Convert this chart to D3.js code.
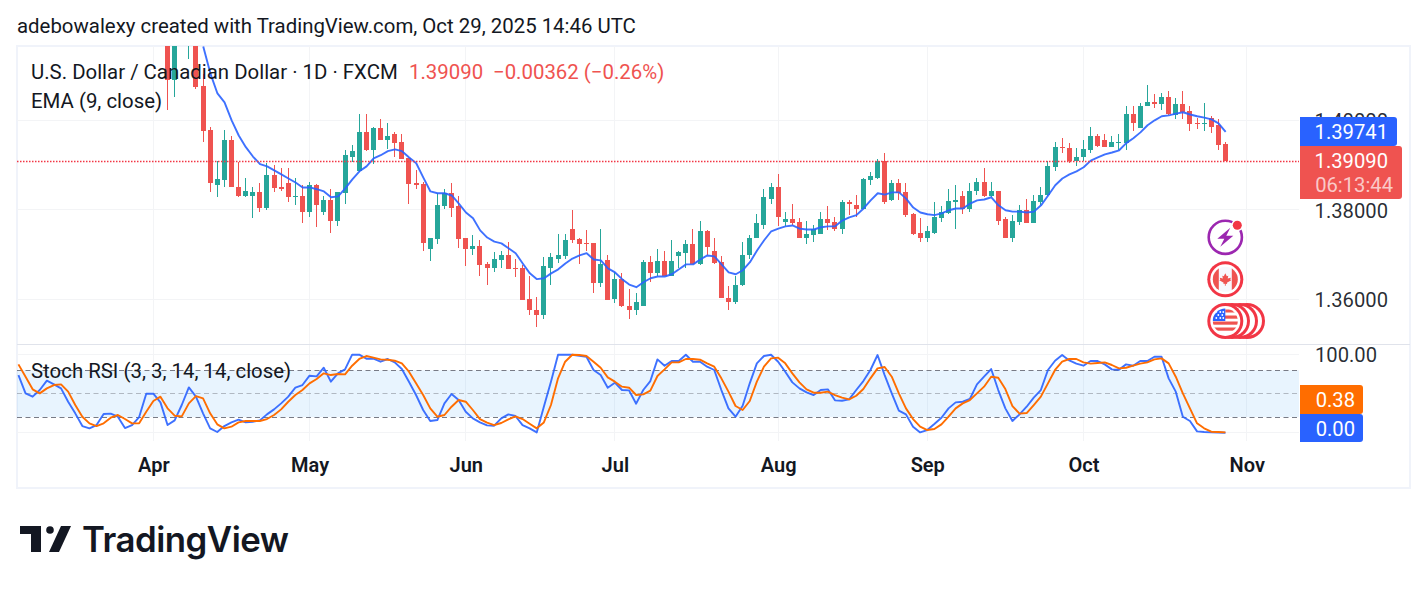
<!DOCTYPE html>
<html>
<head>
<meta charset="utf-8">
<style>
html,body{margin:0;padding:0;background:#fff;}
svg{display:block;font-family:Roboto,sans-serif;}
</style>
<script src="https://cdn.jsdelivr.net/npm/d3@7"></script>
</head>
<body>
<svg id="chart" width="1428" height="591"></svg>
<script>
// USD/CAD daily candles, Apr 3 to Oct 29 2025
const opens = [1.4201,1.4091,1.4234,1.4170,1.4179,1.4076,1.3978,1.3855,1.3866,1.3957,1.3852,1.3830,1.3830,1.3839,1.3805,1.3877,1.3850,1.3861,1.3828,1.3830,
1.3796,1.3855,1.3794,1.3823,1.3774,1.3837,1.3919,1.3886,1.3973,1.3933,1.3982,1.3955,1.3969,1.3951,1.3915,1.3859,1.3857,1.3712,1.3734,1.3808,
1.3837,1.3808,1.3738,1.3712,1.3720,1.3678,1.3671,1.3687,1.3700,1.3669,1.3669,1.3600,1.3577,1.3566,1.3671,1.3691,1.3696,1.3756,1.3734,1.3725,
1.3725,1.3636,1.3687,1.3600,1.3645,1.3586,1.3577,1.3584,1.3683,1.3658,1.3685,1.3651,1.3696,1.3703,1.3723,1.3678,1.3752,1.3709,1.3683,1.3604,
1.3593,1.3631,1.3700,1.3736,1.3767,1.3825,1.3852,1.3772,1.3779,1.3772,1.3738,1.3743,1.3745,1.3779,1.3772,1.3756,1.3817,1.3810,1.3801,1.3866,
1.3872,1.3910,1.3821,1.3859,1.3839,1.3790,1.3749,1.3736,1.3749,1.3781,1.3792,1.3817,1.3830,1.3801,1.3841,1.3863,1.3830,1.3843,1.3779,1.3736,
1.3772,1.3799,1.3770,1.3817,1.3832,1.3895,1.3940,1.3937,1.3910,1.3917,1.3933,1.3966,1.3955,1.3940,1.3949,1.3949,1.4013,1.3982,1.4031,1.4040,
1.4036,1.4053,1.4011,1.4036,1.4020,1.3993,1.3991,1.4006,1.3989,1.3946];
const highs = [1.4223,1.4223,1.4245,1.4234,1.4201,1.4103,1.3984,1.3910,1.3978,1.3964,1.3906,1.3870,1.3850,1.3861,1.3904,1.3899,1.3893,1.3893,1.3872,1.3855,
1.3863,1.3857,1.3830,1.3846,1.3839,1.3933,1.3944,1.4015,1.4015,1.3986,1.4004,1.3995,1.3973,1.3969,1.3915,1.3888,1.3863,1.3738,1.3837,1.3846,
1.3861,1.3830,1.3738,1.3743,1.3732,1.3683,1.3705,1.3707,1.3729,1.3689,1.3676,1.3651,1.3606,1.3694,1.3703,1.3747,1.3747,1.3799,1.3738,1.3754,
1.3725,1.3758,1.3700,1.3662,1.3658,1.3624,1.3615,1.3687,1.3696,1.3712,1.3709,1.3732,1.3709,1.3732,1.3756,1.3774,1.3754,1.3736,1.3696,1.3629,
1.3653,1.3727,1.3743,1.3790,1.3846,1.3859,1.3879,1.3796,1.3812,1.3781,1.3774,1.3765,1.3796,1.3808,1.3783,1.3821,1.3821,1.3832,1.3870,1.3884,
1.3913,1.3926,1.3866,1.3868,1.3859,1.3792,1.3781,1.3763,1.3817,1.3808,1.3846,1.3855,1.3843,1.3861,1.3870,1.3893,1.3863,1.3843,1.3783,1.3788,
1.3810,1.3825,1.3832,1.3850,1.3908,1.3951,1.3960,1.3949,1.3937,1.3957,1.3986,1.3969,1.3969,1.3964,1.3969,1.4033,1.4033,1.4038,1.4078,1.4058,
1.4060,1.4065,1.4049,1.4065,1.4031,1.4006,1.4038,1.4009,1.4004,1.3951];
const lows = [1.4024,1.4051,1.4201,1.4138,1.4071,1.3951,1.3839,1.3828,1.3850,1.3850,1.3828,1.3828,1.3781,1.3794,1.3799,1.3839,1.3843,1.3817,1.3810,1.3770,
1.3785,1.3761,1.3788,1.3749,1.3763,1.3814,1.3906,1.3884,1.3931,1.3902,1.3955,1.3935,1.3917,1.3913,1.3814,1.3846,1.3709,1.3685,1.3723,1.3801,
1.3785,1.3714,1.3674,1.3700,1.3651,1.3633,1.3660,1.3669,1.3667,1.3649,1.3598,1.3564,1.3537,1.3555,1.3633,1.3680,1.3689,1.3725,1.3678,1.3707,
1.3615,1.3627,1.3598,1.3591,1.3582,1.3555,1.3564,1.3584,1.3638,1.3651,1.3651,1.3651,1.3669,1.3671,1.3678,1.3676,1.3698,1.3678,1.3602,1.3575,
1.3589,1.3629,1.3689,1.3736,1.3758,1.3814,1.3763,1.3763,1.3767,1.3736,1.3723,1.3727,1.3745,1.3754,1.3752,1.3745,1.3788,1.3785,1.3801,1.3855,
1.3868,1.3814,1.3819,1.3823,1.3783,1.3743,1.3727,1.3727,1.3745,1.3772,1.3790,1.3756,1.3790,1.3794,1.3832,1.3828,1.3828,1.3767,1.3736,1.3727,
1.3767,1.3770,1.3770,1.3810,1.3830,1.3886,1.3926,1.3904,1.3897,1.3908,1.3928,1.3940,1.3940,1.3940,1.3933,1.3933,1.3975,1.3982,1.4031,1.4027,
1.4022,1.4011,1.4004,1.4002,1.3975,1.3980,1.3975,1.3971,1.3933,1.3909];
const closes = [1.4091,1.4201,1.4212,1.4212,1.4074,1.3975,1.3861,1.3868,1.3957,1.3850,1.3830,1.3841,1.3839,1.3805,1.3877,1.3848,1.3846,1.3828,1.3830,1.3796,
1.3855,1.3810,1.3823,1.3774,1.3839,1.3922,1.3931,1.3973,1.3933,1.3982,1.3955,1.3964,1.3949,1.3913,1.3857,1.3855,1.3725,1.3736,1.3810,1.3837,
1.3805,1.3734,1.3712,1.3720,1.3676,1.3671,1.3689,1.3700,1.3667,1.3667,1.3598,1.3575,1.3566,1.3674,1.3694,1.3698,1.3732,1.3732,1.3723,1.3723,
1.3636,1.3678,1.3598,1.3645,1.3584,1.3577,1.3595,1.3683,1.3658,1.3685,1.3651,1.3685,1.3705,1.3723,1.3678,1.3752,1.3716,1.3680,1.3602,1.3593,
1.3633,1.3698,1.3738,1.3770,1.3828,1.3852,1.3785,1.3779,1.3770,1.3738,1.3745,1.3756,1.3779,1.3770,1.3756,1.3817,1.3814,1.3801,1.3868,1.3875,
1.3910,1.3817,1.3859,1.3837,1.3788,1.3747,1.3736,1.3752,1.3783,1.3794,1.3819,1.3823,1.3801,1.3843,1.3863,1.3830,1.3843,1.3776,1.3736,1.3774,
1.3799,1.3770,1.3819,1.3834,1.3897,1.3940,1.3937,1.3908,1.3919,1.3935,1.3966,1.3942,1.3940,1.3951,1.3951,1.4013,1.3993,1.4033,1.4040,1.4036,
1.4053,1.4013,1.4036,1.4018,1.3991,1.3991,1.3993,1.3986,1.3944,1.3909];

// EMA(9) starts at candle 5, earlier values sit above the visible range
const emaStart = 5;
const emaValues = [1.4165,1.4105,1.4060,1.4040,1.4000,1.3966,1.3940,1.3919,1.3902,1.3897,1.3888,1.3879,1.3870,1.3861,1.3850,1.3850,1.3846,1.3841,1.3828,1.3830,
1.3848,1.3868,1.3886,1.3897,1.3915,1.3922,1.3931,1.3935,1.3931,1.3917,1.3904,1.3872,1.3841,1.3837,1.3837,1.3832,1.3814,1.3794,1.3781,1.3754,
1.3738,1.3729,1.3725,1.3714,1.3703,1.3680,1.3658,1.3645,1.3647,1.3658,1.3667,1.3680,1.3691,1.3698,1.3703,1.3689,1.3687,1.3669,1.3660,1.3645,
1.3633,1.3627,1.3638,1.3647,1.3651,1.3651,1.3656,1.3667,1.3678,1.3678,1.3689,1.3698,1.3696,1.3678,1.3660,1.3656,1.3665,1.3683,1.3709,1.3732,
1.3752,1.3758,1.3763,1.3765,1.3758,1.3756,1.3756,1.3761,1.3763,1.3763,1.3776,1.3783,1.3788,1.3803,1.3821,1.3837,1.3834,1.3839,1.3839,1.3825,
1.3805,1.3794,1.3790,1.3788,1.3792,1.3799,1.3803,1.3803,1.3814,1.3821,1.3823,1.3828,1.3810,1.3799,1.3796,1.3796,1.3794,1.3796,1.3810,1.3832,
1.3855,1.3870,1.3879,1.3886,1.3895,1.3910,1.3917,1.3924,1.3928,1.3933,1.3949,1.3960,1.3973,1.3989,1.4000,1.4009,1.4011,1.4015,1.4018,1.4013,
1.4009,1.4006,1.4002,1.3993,1.39741];

// Stoch RSI runs further back than the visible candles
const stochStart = -21;
const stochK = [73.9,50.4,46.2,54.7,66.7,62.0,56.8,39.7,24.8,8.5,5.6,9.8,23.9,24.4,20.5,6.0,9.8,20.1,50.0,50.0,
38.9,9.8,15.8,35.5,58.1,46.2,24.8,5.6,0.9,8.5,13.2,16.7,13.2,14.1,15.8,23.5,29.9,37.6,46.2,57.7,
61.1,73.1,72.2,83.3,65.4,76.1,81.2,100,100,94.9,94.9,91.0,94.5,90.2,81.6,65.4,48.3,29.1,15.0,16.2,
37.6,49.6,41.9,26.9,18.4,13.2,9.4,9.0,18.4,23.5,21.4,9.8,5.6,0.4,33.3,65.4,100,100,100,98.7,
97.4,80.4,73.9,57.7,64.1,54.7,54.3,37.2,54.7,66.2,94.0,85.9,91.9,91.9,100,91.0,91.0,84.6,80.4,54.7,
31.2,20.5,34.6,63.3,88.9,98.3,100,91.0,78.2,64.5,56.8,51.7,48.3,54.7,55.6,41.5,41.0,42.7,54.7,66.2,
80.4,99.6,73.9,50.4,28.2,23.5,7.7,0.4,3.4,11.1,19.2,31.2,38.9,39.7,43.2,62.0,71.8,81.6,54.7,31.2,
15.0,23.5,33.3,44.9,54.7,80.4,92.3,99.6,92.7,88.5,85.9,91.9,91.9,87.6,81.2,80.8,87.6,85.9,91.9,91.9,
97.4,97.4,69.7,52.6,20.5,15.0,1.7,0.9,0.4,0.2,0];
const stochD = [87.6,71.8,55.6,50.4,56.8,61.1,62.0,52.6,35.5,20.5,12.0,8.5,12.0,19.2,22.7,17.5,12.0,12.0,26.9,40.6,
46.2,31.2,21.8,20.9,37.6,47.0,44.0,24.8,10.7,5.6,7.7,13.2,15.0,15.0,15.0,17.5,22.7,29.9,39.7,48.3,
54.7,63.3,68.8,76.1,73.9,75.2,74.8,85.9,94.5,98.3,96.2,94.0,93.6,92.3,88.9,78.2,63.3,48.3,31.2,20.5,
22.7,33.3,41.9,39.7,29.1,17.5,12.8,9.8,12.4,17.1,20.9,17.5,11.5,5.6,13.2,35.5,69.7,91.0,100,99.6,
98.3,91.0,83.3,70.9,65.4,59.0,57.7,48.3,49.2,53.9,72.7,81.2,90.2,90.2,94.5,94.5,93.6,88.9,84.6,69.7,
52.6,34.2,29.1,40.6,65.4,84.6,95.3,96.2,88.9,76.1,64.5,55.6,51.3,51.3,52.6,48.3,44.9,42.7,47.4,56.0,
69.7,82.5,84.2,71.8,50.4,31.2,17.5,7.7,3.4,4.7,10.7,20.5,31.2,37.6,41.9,50.4,59.0,71.8,70.5,56.0,
34.2,24.4,25.2,35.5,46.2,63.3,80.4,91.0,94.5,94.5,90.2,88.5,89.3,90.2,86.8,82.5,83.3,85.9,88.5,90.2,
94.0,95.3,88.9,71.8,50.4,31.2,12.0,5.6,1.3,0.9,0.38];

const monthNames = ["Apr","May","Jun","Jul","Aug","Sep","Oct","Nov"];
const monthBars = [-2,20,42,63,86,107,129,152];   // bar index of each month's first session
const priceTicks = [1.40,1.38,1.36];
const stochGrid = [0,100];
const stochBands = [80,50,20];

const lastPrice = 1.3909, emaLast = 1.39741;

const up = "#26a69a", down = "#ef5350", blue = "#2962ff", orange = "#ff6d00", ink = "#131722";
const svg = d3.select("#chart");

const x = d3.scaleLinear().domain([0,149]).range([167.55,1225.45]);
const y = d3.scaleLinear().domain([1.36,1.40]).range([299.3,120.3]);
const yS = d3.scaleLinear().domain([0,100]).range([432.7,354.7]);

const paneL = 17, paneR = 1299, mainTop = 46, mainBottom = 344, subBottom = 441;

// Outer frame
svg.append("rect").attr("x",17).attr("y",46).attr("width",1393).attr("height",442)
  .attr("fill","none").attr("stroke","#f0f3fa").attr("stroke-width",2);

// Clip paths for both panes
const defs = svg.append("defs");
defs.append("clipPath").attr("id","mainClip").append("rect")
  .attr("x",paneL).attr("y",mainTop).attr("width",paneR-paneL).attr("height",mainBottom-mainTop);
defs.append("clipPath").attr("id","subClip").append("rect")
  .attr("x",paneL).attr("y",mainBottom+1).attr("width",paneR-paneL).attr("height",subBottom-mainBottom);

// Gridlines
const grid = svg.append("g").attr("stroke","#f3f4f6").attr("stroke-width",1).attr("shape-rendering","crispEdges");
monthBars.forEach(b=>{
  const gx = Math.floor(x(b))+0.5;
  grid.append("line").attr("x1",gx).attr("x2",gx).attr("y1",mainTop).attr("y2",mainBottom);
  grid.append("line").attr("x1",gx).attr("x2",gx).attr("y1",mainBottom+1).attr("y2",subBottom);
});
priceTicks.forEach(t=>{
  const gy = Math.floor(y(t))+0.5;
  grid.append("line").attr("x1",paneL).attr("x2",paneR).attr("y1",gy).attr("y2",gy);
});
stochGrid.forEach(t=>{
  const gy = Math.floor(yS(t))+0.5;
  grid.append("line").attr("x1",paneL).attr("x2",paneR).attr("y1",gy).attr("y2",gy);
});

// Pane separator
svg.append("line").attr("x1",17).attr("x2",1410).attr("y1",344.5).attr("y2",344.5)
  .attr("stroke","#e0e3eb").attr("stroke-width",1);

// Candles
const candles = svg.append("g").attr("clip-path","url(#mainClip)").attr("shape-rendering","crispEdges");
const bars = d3.range(opens.length);
candles.selectAll("rect.wick").data(bars).join("rect").attr("class","wick")
  .attr("x",i=>Math.floor(x(i))).attr("width",1)
  .attr("y",i=>Math.round(y(highs[i])))
  .attr("height",i=>Math.max(1,Math.round(y(lows[i]))-Math.round(y(highs[i]))))
  .attr("fill",i=>closes[i]>=opens[i]?up:down);
candles.selectAll("rect.body").data(bars).join("rect").attr("class","body")
  .attr("x",i=>Math.floor(x(i))-2).attr("width",5)
  .attr("y",i=>Math.round(y(Math.max(opens[i],closes[i]))))
  .attr("height",i=>Math.max(1,Math.round(y(Math.min(opens[i],closes[i])))-Math.round(y(Math.max(opens[i],closes[i])))))
  .attr("fill",i=>closes[i]>=opens[i]?up:down);

// EMA line
svg.append("path").attr("clip-path","url(#mainClip)").datum(emaValues)
  .attr("fill","none").attr("stroke",blue).attr("stroke-width",1.9).attr("stroke-opacity",0.9)
  .attr("stroke-linejoin","round")
  .attr("d",d3.line().x((d,i)=>x(i+emaStart)+0.2).y(d=>y(d)));

// Last price marker
svg.append("line").attr("x1",paneL).attr("x2",paneR)
  .attr("y1",Math.floor(y(lastPrice))+0.5).attr("y2",Math.floor(y(lastPrice))+0.5)
  .attr("stroke","#f23645").attr("stroke-width",1.3).attr("stroke-dasharray","1.5 1.5");

// Oscillator band
svg.append("rect").attr("x",paneL).attr("width",paneR-paneL)
  .attr("y",yS(80)).attr("height",yS(20)-yS(80)).attr("fill","#2196f3").attr("fill-opacity",0.1);
stochBands.forEach(t=>{
  svg.append("line").attr("x1",paneL).attr("x2",paneR)
    .attr("y1",Math.floor(yS(t))+0.5).attr("y2",Math.floor(yS(t))+0.5)
    .attr("stroke","#787b86").attr("stroke-opacity",t===50?0.5:1)
    .attr("stroke-width",1).attr("stroke-dasharray","5 3.5");
});

// Oscillator lines
const stochLine = d3.line().x((d,i)=>x(i+stochStart)).y(d=>yS(d));
const sub = svg.append("g").attr("clip-path","url(#subClip)");
sub.append("path").datum(stochK).attr("fill","none").attr("stroke",blue).attr("stroke-opacity",0.9)
  .attr("stroke-width",1.9).attr("stroke-linejoin","round").attr("d",stochLine);
sub.append("path").datum(stochD).attr("fill","none").attr("stroke",orange)
  .attr("stroke-width",1.9).attr("stroke-linejoin","round").attr("d",stochLine);

// Price axis labels
const labelX = 1388;
const priceAxis = d3.axisLeft(y).tickValues(priceTicks).tickSize(0).tickPadding(0).tickFormat(d3.format(".5f"));
svg.append("g").attr("transform",`translate(${labelX},1)`).call(priceAxis)
  .call(g=>g.select(".domain").remove())
  .call(g=>g.selectAll("text").attr("font-family","Roboto").attr("font-size",20.2).attr("fill",ink).attr("fill-opacity",0.92));
const stochAxis = d3.axisLeft(yS).tickValues([100]).tickSize(0).tickPadding(0).tickFormat(d3.format(".2f"));
svg.append("g").attr("transform",`translate(1377,0)`).call(stochAxis)
  .call(g=>g.select(".domain").remove())
  .call(g=>g.selectAll("text").attr("font-family","Roboto").attr("font-size",20.2).attr("fill",ink).attr("fill-opacity",0.92));

// Time axis labels
const timeAxis = d3.axisBottom(d3.scaleOrdinal().domain(monthNames).range(monthBars.map(b=>x(b))))
  .tickSize(0).tickPadding(0);
svg.append("g").attr("transform","translate(0,458)").call(timeAxis)
  .call(g=>g.select(".domain").remove())
  .call(g=>g.selectAll("text").attr("font-family","Roboto").attr("font-size",20).attr("font-weight",600).attr("fill",ink));

// Value tags on the axis
function tag(yTop,h,w,color){
  const r=3;
  svg.append("path").attr("fill",color)
    .attr("d",`M1300,${yTop}H${1300+w-r}a${r},${r} 0 0 1 ${r},${r}V${yTop+h-r}a${r},${r} 0 0 1 ${-r},${r}H1300Z`);
}
function tagText(txt,cy,xEnd,op){
  svg.append("text").attr("x",xEnd).attr("y",cy).attr("dy","0.355em").attr("text-anchor","end")
    .attr("font-size",20.2).attr("fill","#fff").attr("fill-opacity",op||1).text(txt);
}
tag(117,29,97,blue);
tagText(d3.format(".5f")(emaLast),131.5,1388);
tag(146,53,102,down);
tagText(d3.format(".5f")(lastPrice),161,1388);
tagText("06:13:44",184.5,1393,0.7);
tag(385,29,63,orange);
tagText(stochD[stochD.length-1].toFixed(2),399.5,1355);
tag(414,28,63,blue);
tagText(stochK[stochK.length-1].toFixed(2),428.5,1355);

// Pane legends
const legend = svg.append("g").attr("font-size",20.4).attr("fill",ink);
legend.append("text").attr("x",31).attr("y",79).text("U.S. Dollar / Canadian Dollar · 1D · FXCM");
legend.append("text").attr("x",409).attr("y",79).attr("fill",down).text("1.39090");
legend.append("text").attr("x",493).attr("y",79).attr("fill",down).text("−0.00362 (−0.26%)");
legend.append("text").attr("x",31).attr("y",108).text("EMA (9, close)");
legend.append("text").attr("x",31).attr("y",378).text("Stoch RSI (3, 3, 14, 14, close)");

// Attribution line
svg.append("text").attr("x",17).attr("y",33).attr("font-size",20.4).attr("fill",ink)
  .text("adebowalexy created with TradingView.com, Oct 29, 2025 14:46 UTC");

// Event badges in the price pane
const ring = "#f23645";
const pulse = svg.append("g").attr("transform","translate(1225.3,237.3)");
pulse.append("circle").attr("r",16.6).attr("fill","none").attr("stroke","#9c27b0").attr("stroke-width",2.6);
pulse.append("path").attr("d","M5,-9.5 L-8,1.5 L-1,1.5 L-5,9.5 L8,-1.5 L1,-1.5 Z").attr("fill","#9c27b0");
pulse.append("circle").attr("cx",12).attr("cy",-12).attr("r",6).attr("fill","#fff");
pulse.append("circle").attr("cx",12).attr("cy",-12).attr("r",4.5).attr("fill",ring);

defs.append("clipPath").attr("id","flagClip").append("circle").attr("r",12.5);

const ca = svg.append("g").attr("transform","translate(1225.3,279.3)");
ca.append("circle").attr("r",18).attr("fill",ring);
ca.append("circle").attr("r",15).attr("fill","#fff");
const caFlag = ca.append("g").attr("clip-path","url(#flagClip)");
caFlag.append("rect").attr("x",-13).attr("y",-13).attr("width",26).attr("height",26).attr("fill","#f7f8fd");
caFlag.append("rect").attr("x",-13).attr("y",-13).attr("width",6.5).attr("height",26).attr("fill",down);
caFlag.append("rect").attr("x",6.5).attr("y",-13).attr("width",6.5).attr("height",26).attr("fill",down);
ca.append("path").attr("fill",down)
  .attr("d","M0,-6 L1.5,-3 L3,-3.6 L2.4,-0.8 L5.5,-1.6 L5,0.4 L6,1 L1.6,3.4 L1.9,4.6 L0.4,4.4 L0.4,6.4 L-0.4,6.4 L-0.4,4.4 L-1.9,4.6 L-1.6,3.4 L-6,1 L-5,0.4 L-5.5,-1.6 L-2.4,-0.8 L-3,-3.6 L-1.5,-3 Z");

// Stacked dollar badges, drawn back to front
[1247,1240,1232].forEach(cx=>{
  const g = svg.append("g").attr("transform",`translate(${cx},321)`);
  g.append("circle").attr("r",18).attr("fill",ring);
  g.append("circle").attr("r",15).attr("fill","#fff");
});
const us = svg.append("g").attr("transform","translate(1225.3,321)");
us.append("circle").attr("r",18).attr("fill",ring);
us.append("circle").attr("r",15).attr("fill","#fff");
const usFlag = us.append("g").attr("clip-path","url(#flagClip)");
usFlag.append("rect").attr("x",-13).attr("y",-13).attr("width",26).attr("height",26).attr("fill","#fff");
[-5.5,0.5,6.5].forEach(sy=>usFlag.append("rect").attr("x",-13).attr("y",sy).attr("width",26).attr("height",3.2).attr("fill",down));
usFlag.append("rect").attr("x",0).attr("y",-11.5).attr("width",13).attr("height",3).attr("fill",down);
usFlag.append("rect").attr("x",-13).attr("y",-13).attr("width",13).attr("height",13).attr("fill","#2962ff");
[[-9,-9],[-5,-9],[-2,-9],[-7,-6],[-3,-6],[-9,-3],[-5,-3],[-2,-3]].forEach(p=>
  usFlag.append("circle").attr("cx",p[0]).attr("cy",p[1]).attr("r",0.9).attr("fill","#fff"));

// Wordmark
const logo = svg.append("g").attr("fill","#131722");
logo.append("path").attr("d","M20,526 H41 V552 H31 V534 H20 Z");
logo.append("circle").attr("cx",50).attr("cy",530).attr("r",3.8);
logo.append("path").attr("d","M61,526 H71 L59,552 H49 Z");
logo.append("text").attr("x",82).attr("y",552).attr("font-family","Inter").attr("font-weight",600)
  .attr("font-size",34.8).attr("letter-spacing",-0.5).text("TradingView");
</script>
</body>
</html>
